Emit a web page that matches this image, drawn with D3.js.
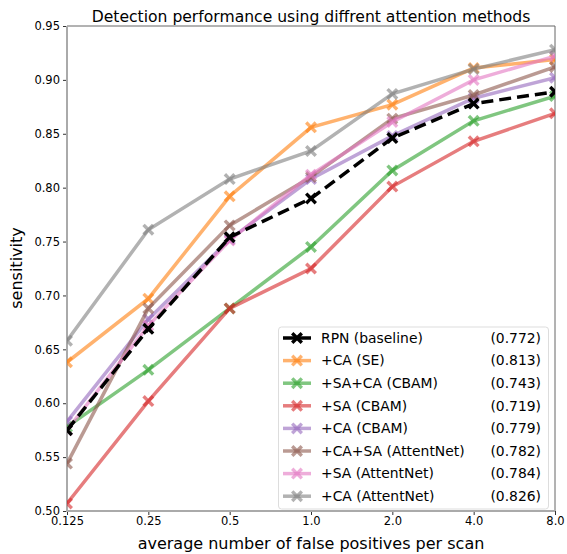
<!DOCTYPE html>
<html><head><meta charset="utf-8">
<script src="https://cdn.jsdelivr.net/npm/d3@7"></script>
<style>body{margin:0;background:#fff}svg{font-family:"DejaVu Sans",sans-serif}</style>
</head><body><svg id="c" width="567" height="554"></svg>
<script>
const xTicks = ["0.125","0.25","0.5","1.0","2.0","4.0","8.0"];
const yTicks = [0.50,0.55,0.60,0.65,0.70,0.75,0.80,0.85,0.90,0.95];
const names = ["RPN (baseline)","+CA (SE)","+SA+CA (CBAM)","+SA (CBAM)","+CA (CBAM)","+CA+SA (AttentNet)","+SA (AttentNet)","+CA (AttentNet)"];
const scores = ["(0.772)","(0.813)","(0.743)","(0.719)","(0.779)","(0.782)","(0.784)","(0.826)"];
const colors = ["#000000","#ff7f0e","#2ca02c","#d62728","#9467bd","#8c564b","#e377c2","#7f7f7f"];
const rpn      = [0.575,0.669,0.754,0.790,0.846,0.878,0.889];
const caSE     = [0.638,0.697,0.792,0.856,0.877,0.911,0.919];
const saCaCBAM = [0.578,0.631,0.688,0.745,0.816,0.862,0.885];
const saCBAM   = [0.507,0.602,0.688,0.725,0.801,0.843,0.869];
const caCBAM   = [0.583,0.678,0.752,0.808,0.848,0.883,0.902];
const caSaAtt  = [0.544,0.688,0.765,0.810,0.864,0.886,0.912];
const saAtt    = [0.575,0.672,0.751,0.812,0.861,0.900,0.922];
const caAtt    = [0.658,0.761,0.808,0.834,0.887,0.910,0.928];
const series = [rpn,caSE,saCaCBAM,saCBAM,caCBAM,caSaAtt,saAtt,caAtt];

const svg = d3.select("#c");
const L=67,R=555,T=26,B=511;
const x = d3.scalePoint().domain(xTicks).range([L,R]);
const y = d3.scaleLinear().domain([0.5,0.95]).range([B,T]);

svg.append("defs").append("clipPath").attr("id","clip")
  .append("rect").attr("x",L).attr("y",T).attr("width",R-L).attr("height",B-T);

// axes
const ya = svg.append("g").attr("transform",`translate(${L},0)`)
  .call(d3.axisLeft(y).tickValues(yTicks).tickFormat(d3.format(".2f")).tickSize(4).tickPadding(3));
const xa = svg.append("g").attr("transform",`translate(0,${B})`)
  .call(d3.axisBottom(x).tickSize(4).tickPadding(2));
[ya,xa].forEach(g=>{g.select(".domain").remove();g.selectAll("text").attr("font-size",11.5).attr("fill","#000").attr("font-family","DejaVu Sans");g.selectAll("line").attr("stroke","#333");});

// spines
svg.append("line").attr("x1",L).attr("x2",R).attr("y1",T).attr("y2",T).attr("stroke","#666").attr("stroke-width",1);
svg.append("line").attr("x1",R).attr("x2",R).attr("y1",T).attr("y2",B).attr("stroke","#666").attr("stroke-width",1);
svg.append("line").attr("x1",L).attr("x2",L).attr("y1",T).attr("y2",B+1).attr("stroke","#aaa").attr("stroke-width",2);
svg.append("line").attr("x1",L-1).attr("x2",R).attr("y1",B).attr("y2",B).attr("stroke","#aaa").attr("stroke-width",2);

function xpath(s){ // filled X marker
  const a=s*0.5, w=s*0.2;
  return `M${-a},${-a+w}L${-a+w},${-a}L0,${-w}L${a-w},${-a}L${a},${-a+w}L${w},0L${a},${a-w}L${a-w},${a}L0,${w}L${-a+w},${a}L${-a},${a-w}L${-w},0Z`;
}
const line = d3.line().x((d,i)=>x(xTicks[i])).y(d=>y(d));
const plot = svg.append("g").attr("clip-path","url(#clip)");
const order=[1,2,3,4,5,6,7,0];
order.forEach(k=>{
  const g = plot.append("g");
  const op = k===0?1:0.6;
  g.append("path").datum(series[k]).attr("d",line).attr("fill","none")
    .attr("stroke",colors[k]).attr("stroke-width",3.5).attr("stroke-opacity",op)
    .attr("stroke-dasharray",k===0?"12,6":null);
  g.selectAll("path.m").data(series[k]).enter().append("path").attr("class","m")
    .attr("d",xpath(12)).attr("transform",(d,i)=>`translate(${x(xTicks[i])},${y(d)})`)
    .attr("fill",colors[k]).attr("fill-opacity",op);
});

// legend
const lg = svg.append("g");
lg.append("rect").attr("x",278.5).attr("y",327).attr("width",270).attr("height",182).attr("rx",3)
  .attr("fill","#fff").attr("fill-opacity",0.85).attr("stroke","#ddd");
names.forEach((n,k)=>{
  const yy = 338 + k*22.6;
  const op = k===0?1:0.6;
  lg.append("line").attr("x1",283).attr("x2",311).attr("y1",yy).attr("y2",yy)
    .attr("stroke",colors[k]).attr("stroke-width",3.5).attr("stroke-opacity",op);
  lg.append("path").attr("d",xpath(12)).attr("transform",`translate(297,${yy})`)
    .attr("fill",colors[k]).attr("fill-opacity",op);
  lg.append("text").attr("x",321).attr("y",yy).attr("dy","0.35em").attr("font-size",13.9).text(n);
  lg.append("text").attr("x",541).attr("y",yy).attr("dy","0.35em").attr("font-size",13.9).attr("text-anchor","end").text(scores[k]);
});

svg.append("text").attr("x",311).attr("y",22).attr("text-anchor","middle").attr("font-size",15.6).text("Detection performance using diffrent attention methods");
svg.append("text").attr("x",311).attr("y",549).attr("text-anchor","middle").attr("font-size",16).text("average number of false positives per scan");
svg.append("text").attr("transform","translate(22,268) rotate(-90)").attr("text-anchor","middle").attr("font-size",16).text("sensitivity");
</script></body></html>
